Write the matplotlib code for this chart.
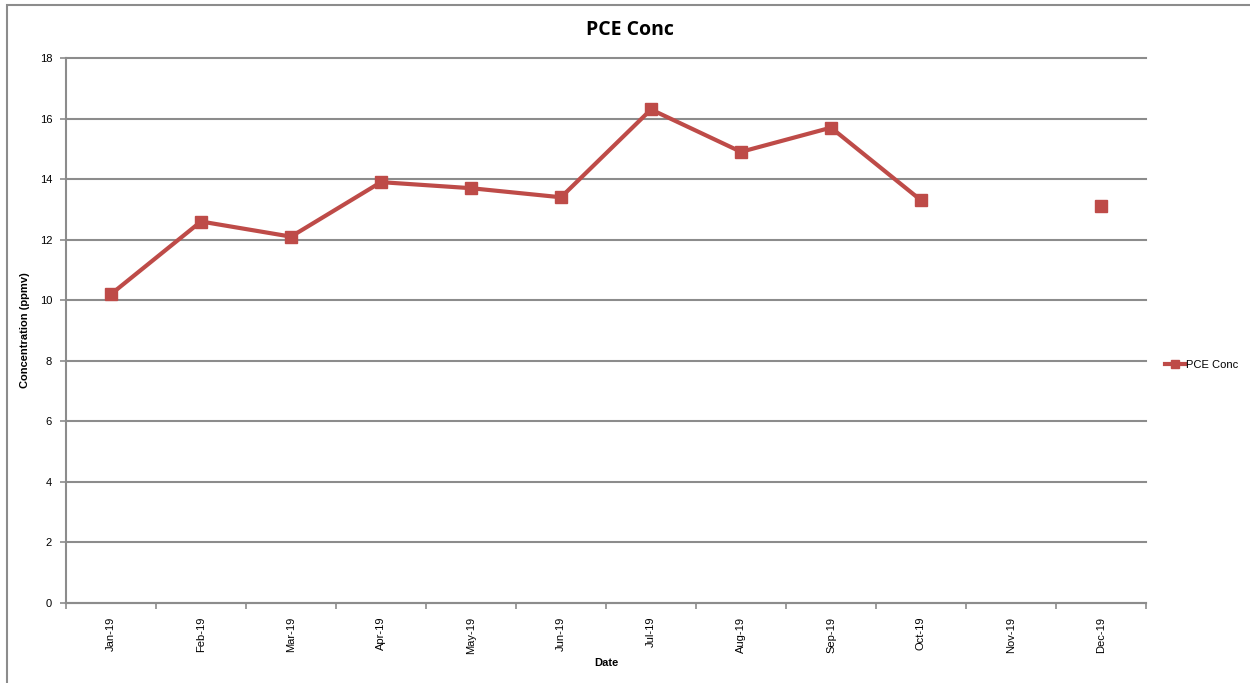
import numpy as np
import matplotlib.pyplot as plt
from matplotlib.patches import Rectangle

months = ["Jan-19", "Feb-19", "Mar-19", "Apr-19", "May-19", "Jun-19",
          "Jul-19", "Aug-19", "Sep-19", "Oct-19", "Nov-19", "Dec-19"]
pce_conc = [10.2, 12.6, 12.1, 13.9, 13.7, 13.4, 16.3, 14.9, 15.7, 13.3, np.nan, 13.1]
y_ticks = [0, 2, 4, 6, 8, 10, 12, 14, 16, 18]

red = "#BE4B48"
grid_gray = "#8C8C8C"

plt.rcParams['font.family'] = ['Liberation Sans', 'DejaVu Sans']

fig = plt.figure(figsize=(12.5, 6.83), dpi=100)

# chart area frame (runs off right and bottom edges)
fig.patches.append(Rectangle((7/1250, -0.05), 1.2, 1 - 5/683 + 0.05,
                             transform=fig.transFigure, fill=False,
                             edgecolor="#8C8C8C", linewidth=1.5))

ax = fig.add_axes([66/1250, 1 - 603/683, 1080/1250, 545/683])

x = np.arange(len(months))
ax.plot(x, pce_conc, color=red, linewidth=3, marker="s", markersize=8,
        markeredgecolor=red, label="PCE Conc")

ax.set_xlim(-0.5, len(months) - 0.5)
ax.set_ylim(0, 18)
ax.set_yticks(y_ticks)
ax.set_yticklabels([str(v) for v in y_ticks], fontsize=8)
ax.set_xticks(x)
ax.set_xticklabels(months, rotation=90, fontsize=8)
ax.set_xticks(np.arange(len(months) + 1) - 0.5, minor=True)
ax.tick_params(axis="x", which="major", length=0, pad=10)
ax.tick_params(axis="x", which="minor", length=4, color=grid_gray, width=1.2)
ax.tick_params(axis="y", length=4, color=grid_gray, width=1.2, pad=6)

ax.grid(axis="y", color=grid_gray, linewidth=1.5)
for gl in ax.get_ygridlines():
    gl.set_clip_on(False)
ax.set_axisbelow(True)
for side in ["top", "right"]:
    ax.spines[side].set_visible(False)
for side in ["left", "bottom"]:
    ax.spines[side].set_color(grid_gray)
    ax.spines[side].set_linewidth(1.5)

ax.set_xlabel("Date", fontsize=8, fontweight="bold", labelpad=3)
ax.set_ylabel("Concentration (ppmv)", fontsize=8, fontweight="bold")
ax.yaxis.set_label_coords(-0.033, 0.5)
fig.text(630/1250, 1 - 30/683, "PCE Conc", ha="center", va="center",
         fontsize=14, fontweight="bold", family=["Open Sans", "DejaVu Sans"])

ax.legend(loc="center left", bbox_to_anchor=(1.008, 0.437), frameon=False,
          fontsize=8, handlelength=1.8, handletextpad=0.1, markerscale=0.8)

fig.savefig("out.png", dpi=100)
